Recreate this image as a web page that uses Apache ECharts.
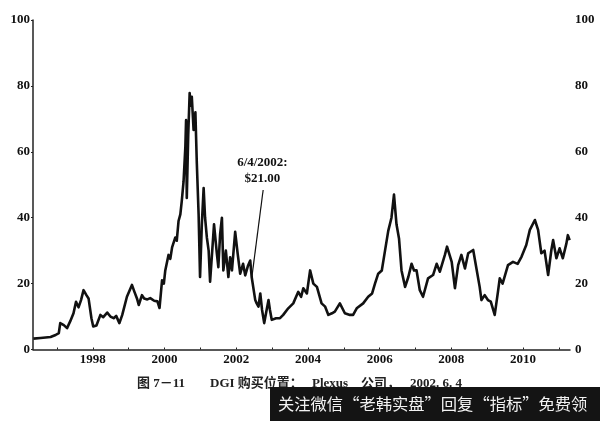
<!DOCTYPE html>
<html>
<head>
<meta charset="utf-8">
<script src="https://cdn.jsdelivr.net/npm/echarts@6/dist/echarts.min.js"></script>
<style>html,body{margin:0;padding:0;background:#fff;}#c{width:600px;height:421px;}</style>
</head>
<body>
<div id="c"></div>
<script>
// Decimal-year positions and closing prices (USD)
var years = [
  1996.34,1996.54,1996.82,1996.96,1997.05,1997.09,1997.19,1997.28,1997.37,1997.46,
  1997.53,1997.60,1997.67,1997.74,1997.82,1997.88,1997.96,1998.01,1998.10,1998.21,
  1998.29,1998.40,1998.49,1998.58,1998.65,1998.74,1998.82,1998.95,1999.09,1999.16,
  1999.23,1999.28,1999.37,1999.43,1999.52,1999.60,1999.71,1999.80,1999.86,1999.93,
  1999.98,2000.02,2000.11,2000.16,2000.21,2000.30,2000.34,2000.39,2000.44,2000.48,
  2000.53,2000.58,2000.60,2000.62,2000.66,2000.70,2000.73,2000.76,2000.81,2000.86,
  2000.90,2000.95,2000.99,2001.04,2001.09,2001.13,2001.18,2001.23,2001.27,2001.33,
  2001.38,2001.46,2001.50,2001.55,2001.60,2001.64,2001.71,2001.78,2001.83,2001.88,
  2001.97,2002.04,2002.11,2002.19,2002.25,2002.33,2002.39,2002.43,2002.48,2002.53,
  2002.57,2002.62,2002.67,2002.72,2002.78,2002.83,2002.90,2002.94,2002.99,2003.11,
  2003.22,2003.31,2003.45,2003.59,2003.73,2003.81,2003.87,2003.97,2004.06,2004.15,
  2004.25,2004.38,2004.48,2004.57,2004.67,2004.75,2004.89,2005.03,2005.17,2005.26,
  2005.36,2005.54,2005.68,2005.79,2005.87,2005.96,2006.06,2006.15,2006.24,2006.33,
  2006.40,2006.47,2006.54,2006.61,2006.71,2006.80,2006.89,2006.96,2007.03,2007.12,
  2007.21,2007.35,2007.49,2007.59,2007.68,2007.82,2007.88,2008.01,2008.10,2008.19,
  2008.28,2008.38,2008.47,2008.61,2008.70,2008.79,2008.84,2008.93,2009.02,2009.10,
  2009.21,2009.30,2009.35,2009.43,2009.58,2009.72,2009.85,2009.96,2010.09,2010.19,
  2010.33,2010.42,2010.51,2010.60,2010.70,2010.79,2010.84,2010.93,2011.02,2011.11,
  2011.21,2011.25,2011.30
];
var prices = [
  3.3,3.5,3.8,4.4,5.0,8.0,7.4,6.5,8.6,11.0,
  14.5,12.8,15.0,18.0,16.5,15.5,9.5,7.0,7.3,10.5,
  9.8,11.2,10.0,9.5,10.2,8.0,10.5,16.0,19.6,17.5,
  15.5,13.5,16.5,15.5,15.2,15.6,14.8,14.6,12.6,21.0,
  20.0,24.0,28.7,27.5,31.0,34.0,33.0,39.0,41.0,45.0,
  51.0,61.5,69.6,46.0,65.0,77.8,74.0,76.7,66.6,72.0,
  56.5,41.0,22.0,38.0,49.0,40.0,34.0,30.0,20.6,30.0,
  38.0,29.0,25.0,35.0,40.0,24.0,30.0,22.0,28.0,24.0,
  35.7,29.0,23.0,26.0,22.5,25.5,27.0,22.0,22.0,15.0,
  14.0,13.0,17.0,12.0,8.0,11.0,15.0,12.0,9.0,9.5,
  9.5,10.5,12.5,14.0,17.5,16.0,18.6,17.0,24.0,20.0,
  19.0,14.0,13.0,10.5,11.0,11.5,14.0,11.0,10.5,10.5,
  12.5,14.0,16.0,17.0,20.0,23.0,24.0,30.0,36.0,40.0,
  47.0,38.0,33.7,24.0,19.0,22.0,26.0,24.0,24.0,18.0,
  16.0,21.6,22.6,26.0,23.6,28.7,31.2,26.6,18.6,25.6,
  28.7,24.6,29.2,30.2,24.6,19.0,15.0,16.5,15.0,14.5,
  10.5,17.5,21.6,20.0,25.6,26.6,26.0,28.2,31.7,36.3,
  39.3,36.3,29.2,30.0,22.6,30.2,33.2,27.7,30.7,27.7,
  32.2,34.7,33.2
];
var yTicks = [0, 20, 40, 60, 80, 100];
var xLabelYears = [1998, 2000, 2002, 2004, 2006, 2008, 2010];
var xTickYears = [1997,1998,1999,2000,2001,2002,2003,2004,2005,2006,2007,2008,2009,2010,2011];
var calloutPoint = [2002.43, 21.5];
var calloutTop = [2002.75, 48.4];
var calloutTextAt = [2002.73, 54.4];
var calloutText = '6/4/2002:\n$21.00';
var titleParts = ['图 7－11', 'DGI 购买位置：', 'Plexus', '公司，', '2002. 6. 4'];
var bannerText = '关注微信“老韩实盘”回复“指标”免费领';

var seriesData = years.map(function (y, i) { return [y, prices[i]]; });
var serif = '"Liberation Serif","Noto Sans CJK SC",serif';
var titleLefts = [137, 210, 312, 361, 410];

var chart = echarts.init(document.getElementById('c'), null, {renderer: 'canvas'});
var graphics = titleParts.map(function (t, i) {
  return {type: 'text', left: titleLefts[i], top: 377, z: 10,
    style: {text: t, fill: '#222', font: 'bold 13px ' + serif}};
});
graphics.push({
  type: 'rect', shape: {x: 270, y: 387, width: 330, height: 34}, z: 20,
  style: {fill: '#141414'}
});
graphics.push({
  type: 'text', left: 278, top: 396, z: 21,
  style: {text: bannerText, fill: '#f2f2f2', font: '16.3px "Noto Sans CJK SC",sans-serif'}
});

chart.setOption({
  backgroundColor: '#ffffff',
  animation: false,
  grid: {left: 33, right: 30, top: 20, bottom: 71.5, containLabel: false},
  xAxis: {
    type: 'value',
    min: 1996.33,
    max: 2011.31,
    axisLine: {show: true, lineStyle: {color: '#222', width: 1.5}},
    axisTick: {show: true, customValues: xTickYears, inside: true, length: 2, lineStyle: {color: '#222'}},
    axisLabel: {customValues: xLabelYears, color: '#111', fontFamily: serif, fontWeight: 'bold', fontSize: 13, margin: 4,
      formatter: function (v) { return String(Math.round(v)); }},
    splitLine: {show: false}
  },
  yAxis: [{
    type: 'value', min: 0, max: 100, interval: 20, position: 'left',
    axisLine: {show: true, lineStyle: {color: '#222', width: 1.5}},
    axisTick: {show: true, length: 2, lineStyle: {color: '#222'}},
    axisLabel: {color: '#111', fontFamily: serif, fontWeight: 'bold', fontSize: 13, margin: 3},
    splitLine: {show: false}
  }, {
    type: 'value', min: 0, max: 100, interval: 20, position: 'right',
    axisLine: {show: false}, axisTick: {show: false},
    axisLabel: {color: '#111', fontFamily: serif, fontWeight: 'bold', fontSize: 13, margin: 5},
    splitLine: {show: false}
  }],
  series: [{
    type: 'line',
    data: seriesData,
    showSymbol: false,
    symbol: 'none',
    lineStyle: {color: '#111', width: 2.6, join: 'round'},
    markLine: {
      silent: true,
      symbol: ['none', 'none'],
      label: {show: false},
      lineStyle: {color: '#111', width: 1.2, type: 'solid'},
      data: [[{coord: calloutTop}, {coord: calloutPoint}]]
    },
    markPoint: {
      silent: true,
      symbol: 'rect',
      symbolSize: 1,
      itemStyle: {color: 'rgba(0,0,0,0)'},
      label: {show: true, position: 'inside', formatter: calloutText, color: '#111',
        fontFamily: serif, fontWeight: 'bold', fontSize: 13, lineHeight: 16, align: 'center'},
      data: [{coord: calloutTextAt}]
    }
  }],
  graphic: graphics
});
</script>
</body>
</html>
